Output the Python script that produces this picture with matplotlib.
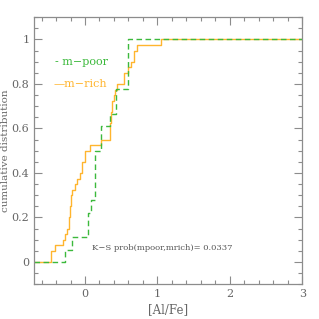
import numpy as np
from matplotlib import pyplot as plt
from matplotlib.ticker import MultipleLocator

# step positions of the two cumulative distributions
poor_x = [-0.28, -0.175, 0.04, 0.08, 0.14, 0.22, 0.35, 0.43, 0.59]
poor_n = [1, 2, 4, 5, 9, 11, 12, 14, 18]
n_poor = 18

rich_x = [-0.475, -0.42, -0.30, -0.27, -0.245, -0.225, -0.21, -0.195, -0.175,
          -0.14, -0.105, -0.074, -0.04, 0.0, 0.065, 0.226, 0.34, 0.365, 0.375,
          0.40, 0.42, 0.44, 0.54, 0.59, 0.63, 0.67, 0.72, 1.055]
rich_n = [2, 3, 4, 5, 6, 8, 10, 12, 13, 14, 15, 16, 18, 20, 21, 22, 25, 27, 29,
          30, 31, 32, 34, 35, 36, 38, 39, 40]
n_rich = 40

ks_prob = 0.0337
xmin, xmax = -0.7, 3.0

GREEN = '#3cb93c'
ORANGE = '#ffb52e'
GREY = '#8c8c8c'

plt.rcParams['font.family'] = ['DejaVu Serif']

fig = plt.figure(figsize=(3.19, 3.19), dpi=100)
ax = fig.add_axes([0.1075, 0.109, 0.84, 0.837])


def cdf(xs, ns, n):
    x = np.concatenate([[xmin], xs, [xmax]])
    y = np.concatenate([[0], np.array(ns) / n, [1]])
    return x, y


x, y = cdf(rich_x, rich_n, n_rich)
ax.step(x, y, where='post', color=ORANGE, lw=1.0)
x, y = cdf(poor_x, poor_n, n_poor)
ax.step(x, y, where='post', color=GREEN, lw=1.0, ls=(0, (4, 2.5)))

ax.text(-0.42, 0.9, '- m\u2212poor', color=GREEN, fontsize=8, va='center')
ax.text(-0.44, 0.8, '\u2014m\u2212rich', color=ORANGE, fontsize=8, va='center')
ax.text(0.095, 0.063, 'K\u2212S prob(mpoor,mrich)= %.4f' % ks_prob,
        color='#555555', fontsize=6, va='center')

ax.set_xlim(xmin, xmax)
ax.set_ylim(-0.1, 1.1)
ax.xaxis.set_major_locator(MultipleLocator(1))
ax.xaxis.set_minor_locator(MultipleLocator(0.2))
ax.yaxis.set_major_locator(MultipleLocator(0.2))
ax.yaxis.set_minor_locator(MultipleLocator(0.05))
ax.set_yticks([0, 0.2, 0.4, 0.6, 0.8, 1.0], ['0', '0.2', '0.4', '0.6', '0.8', '1'])
ax.tick_params(which='both', direction='in', top=True, right=True,
               color=GREY, labelcolor='#666666', labelsize=8, width=0.8)
ax.tick_params(which='major', length=6)
ax.tick_params(which='minor', length=3)
for s in ax.spines.values():
    s.set_color(GREY)
    s.set_linewidth(0.9)

ax.set_xlabel('[Al/Fe]', color='#666666', fontsize=8.5, labelpad=3)
ax.set_ylabel('cumulative distribution', color='#666666', fontsize=7.5)
ax.yaxis.set_label_coords(-0.092, 0.5)

fig.savefig('out.png', dpi=100)
